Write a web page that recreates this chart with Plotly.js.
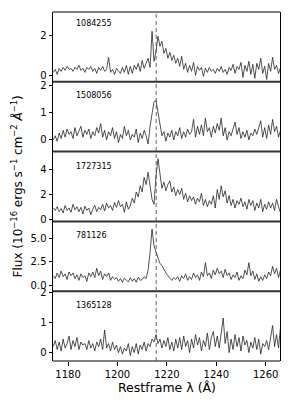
<!DOCTYPE html>
<html>
<head>
<meta charset="utf-8">
<script src="https://cdn.plot.ly/plotly-3.0.1.min.js"></script>
<style>html,body{margin:0;padding:0;background:#fff;}#chart{width:298px;height:404px;}</style>
</head>
<body>
<div id="chart"></div>
<script>
const wave = [
1174.0,1174.8,1175.6,1176.4,1177.2,1178.0,1178.8,1179.6,1180.4,1181.2,
1182.0,1182.8,1183.6,1184.4,1185.2,1186.0,1186.8,1187.6,1188.4,1189.2,
1190.0,1190.8,1191.6,1192.4,1193.2,1194.0,1194.8,1195.6,1196.4,1197.2,
1198.0,1198.8,1199.6,1200.4,1201.2,1202.0,1202.8,1203.6,1204.4,1205.2,
1206.0,1206.8,1207.6,1208.4,1209.2,1210.0,1210.8,1211.6,1212.4,1213.2,
1214.0,1214.8,1215.6,1216.4,1217.2,1218.0,1218.8,1219.6,1220.4,1221.2,
1222.0,1222.8,1223.6,1224.4,1225.2,1226.0,1226.8,1227.6,1228.4,1229.2,
1230.0,1230.8,1231.6,1232.4,1233.2,1234.0,1234.8,1235.6,1236.4,1237.2,
1238.0,1238.8,1239.6,1240.4,1241.2,1242.0,1242.8,1243.6,1244.4,1245.2,
1246.0,1246.8,1247.6,1248.4,1249.2,1250.0,1250.8,1251.6,1252.4,1253.2,
1254.0,1254.8,1255.6,1256.4,1257.2,1258.0,1258.8,1259.6,1260.4,1261.2,
1262.0,1262.8,1263.6,1264.4,1265.2,1266.0];

const objectIds = ["1084255","1508056","1727315","781126","1365128"];

const flux1084255 = [
0.15,0.3,0.05,0.35,0.2,0.4,0.25,0.45,0.3,0.35,
0.2,0.4,0.3,0.5,0.25,0.35,0.15,0.4,0.3,0.45,
0.2,0.35,0.1,0.4,0.25,0.45,0.2,0.3,0.9,0.15,
0.3,0.05,0.35,0.2,0.1,0.4,0.15,0.5,0.05,0.45,
0.1,0.5,0.3,0.6,0.2,0.75,0.35,0.6,0.85,0.4,
2.2,0.7,1.2,1.95,1.45,1.7,1.1,1.35,0.85,1.15,
0.75,1.0,0.6,0.85,0.45,0.95,0.3,0.6,0.15,0.5,
0.2,0.65,0.0,0.45,0.25,0.4,-0.05,0.35,0.15,0.4,
0.2,0.3,0.1,0.35,0.2,0.45,0.15,0.3,0.05,0.4,
0.25,0.55,0.1,0.45,0.3,0.65,-0.1,0.5,0.2,0.7,
0.05,0.55,-0.15,0.6,0.3,0.85,0.1,0.45,-0.2,0.6,
0.2,0.9,0.3,0.5,0.1,0.4];

const flux1508056 = [
0.0,0.15,-0.05,0.25,0.05,0.35,0.1,0.4,0.2,0.3,
0.05,0.45,0.15,0.3,0.5,0.1,0.35,0.2,0.4,0.05,
0.3,0.15,0.45,0.25,0.6,0.1,0.35,0.0,0.3,0.15,
0.45,0.05,0.3,-0.1,0.2,0.05,0.5,0.15,0.35,0.0,
0.2,0.1,0.4,-0.1,0.25,0.05,0.35,0.15,-0.15,0.5,
0.95,1.4,1.45,1.05,0.55,0.15,0.3,-0.05,0.25,0.1,
0.35,0.0,0.3,0.15,0.45,0.05,0.3,0.1,0.4,0.2,
0.3,0.75,0.1,0.5,0.2,0.55,0.15,0.8,0.3,0.45,
0.1,0.5,0.25,0.6,0.35,0.8,0.15,0.45,0.0,0.3,
0.15,0.4,0.65,0.2,0.45,0.05,0.3,0.1,0.35,0.0,
0.25,0.15,0.4,0.2,0.5,0.7,0.1,0.45,0.05,0.55,
0.2,0.75,0.3,0.5,0.1,0.35];

const flux1727315 = [
0.9,0.7,1.0,0.6,0.85,0.5,1.1,0.7,0.9,0.55,
1.2,0.75,1.0,0.6,0.95,0.4,1.05,0.7,0.9,0.35,
0.8,1.1,0.6,0.95,0.75,1.2,0.65,1.3,0.9,1.1,
0.7,1.35,0.95,1.5,1.0,1.2,0.55,1.4,0.8,1.1,
1.7,1.3,2.2,1.8,2.7,2.2,3.4,2.8,3.8,2.6,
1.6,1.2,3.5,4.9,3.7,2.5,3.0,2.3,2.8,3.1,
2.2,2.6,1.9,2.4,2.0,2.5,1.6,2.1,1.4,1.9,
1.5,1.8,1.2,1.7,1.4,2.1,1.1,1.6,1.0,1.5,
1.2,1.9,0.9,2.4,1.6,2.7,1.8,2.3,1.3,1.9,
1.1,1.6,0.9,1.5,1.2,1.7,1.0,1.4,0.8,1.6,
1.1,1.5,0.7,1.3,0.9,1.6,0.6,1.2,0.8,1.4,
0.9,1.3,0.7,1.6,1.0,0.5];

const flux781126 = [
1.0,0.7,1.3,0.8,1.5,0.9,1.2,0.6,1.4,1.0,
1.3,0.7,1.1,0.5,1.2,0.8,1.0,0.4,1.3,0.9,
1.4,0.8,1.8,1.0,1.5,0.6,1.2,0.9,1.3,0.5,
0.9,0.6,0.8,0.4,0.7,0.3,0.75,0.5,0.35,0.8,
0.4,0.7,0.3,0.85,0.5,0.6,0.9,0.7,1.6,3.5,
6.0,4.2,3.5,2.9,2.3,2.1,1.6,1.3,1.0,0.7,
0.5,0.8,0.6,0.9,0.4,1.0,0.7,1.2,0.5,0.9,
0.6,1.3,0.8,1.1,0.5,1.4,0.9,2.4,1.0,1.3,
0.7,1.6,1.1,1.8,1.2,1.5,0.8,1.7,1.0,1.3,
0.6,1.1,0.8,1.4,0.5,1.0,0.7,1.6,1.1,2.4,
1.0,1.5,0.6,1.2,0.4,0.9,0.5,1.1,0.7,1.4,
1.0,2.0,1.2,1.8,0.8,1.6];

const flux1365128 = [
0.2,0.4,0.1,0.35,0.05,0.45,0.15,0.3,0.55,0.1,
0.4,0.2,0.5,0.1,0.35,0.25,0.3,0.1,0.4,0.15,
0.3,0.05,0.35,0.2,0.45,0.1,0.75,0.15,0.3,0.05,
0.35,0.1,0.25,0.0,0.2,-0.05,0.15,0.05,0.3,-0.1,
0.2,0.0,0.3,-0.05,0.25,0.1,0.35,0.05,0.3,0.2,
0.45,0.35,0.6,0.3,0.45,0.15,0.4,0.2,0.5,0.1,
0.35,0.05,0.45,0.15,0.5,0.1,0.55,0.2,0.4,0.0,
0.45,0.15,0.6,0.25,0.5,0.05,0.4,0.2,0.65,0.1,
0.5,0.7,0.2,0.55,0.15,0.6,1.15,0.3,0.7,0.0,
0.45,0.1,0.6,0.2,0.5,0.05,0.55,0.25,0.4,0.0,
0.35,0.15,0.5,0.1,0.45,-0.05,0.3,0.2,0.4,0.1,
0.5,0.9,0.2,0.6,0.15,0.85];

const fluxes = [flux1084255, flux1508056, flux1727315, flux781126, flux1365128];
const yTicks = [[0,2],[0,1,2],[0,2,4],[0,2.5,5],[0,1,2]];
const xTicks = [1180,1200,1220,1240,1260];
const lyaWave = 1215.67;

const yRanges = [[-0.32,3.16],[-0.43,2.13],[-0.19,5.48],[-0.66,6.83],[-0.28,2.04]];
const labelPos = [0.83,0.80,0.79,0.795,0.80];

const FONT = "DejaVu Sans, sans-serif";
const traces = [];
const layout = {
  width: 298, height: 404,
  margin: {l:53, r:18, t:12, b:43},
  paper_bgcolor: "#fff", plot_bgcolor: "#fff",
  showlegend: false,
  font: {family: FONT, size: 10, color: "#000"},
  xaxis: {
    anchor: "y5", domain: [0,1], range: [1173.9,1265.8],
    tickvals: xTicks, ticks: "outside", ticklen: 3.5, tickwidth: 1, tickcolor: "#000",
    showline: false, showgrid: false, zeroline: false,
    tickfont: {family: FONT, size: 10, color: "#000"}
  },
  shapes: [], annotations: []
};

for (let k = 0; k < 5; k++) {
  const yname = k === 0 ? "y" : "y" + (k+1);
  const axname = k === 0 ? "yaxis" : "yaxis" + (k+1);
  traces.push({
    x: wave, y: fluxes[k], xaxis: "x", yaxis: yname,
    type: "scatter", mode: "lines",
    line: {color: "#262626", width: 0.8}, hoverinfo: "skip"
  });
  const d0 = (4-k)/5, d1 = (5-k)/5;
  layout[axname] = {
    anchor: "x", domain: [d0, d1], range: yRanges[k],
    tickvals: yTicks[k], ticktext: yTicks[k].map(v => k === 3 ? v.toFixed(1) : String(v)),
    ticks: "outside", ticklen: 3.5, tickwidth: 1, tickcolor: "#000",
    showline: true, mirror: true, linecolor: "#000", linewidth: 1,
    showgrid: false, zeroline: false,
    tickfont: {family: FONT, size: 10, color: "#000"}
  };
  layout.annotations.push({
    text: objectIds[k], xref: "paper", x: 0.091, xanchor: "left",
    yref: yname + " domain", y: labelPos[k], yanchor: "middle",
    showarrow: false, font: {family: FONT, size: 8, color: "#000"}
  });
}

for (let k = 0; k <= 5; k++) {
  const inner = k > 0 && k < 5;
  layout.shapes.push({
    type: "line", xref: "paper", yref: "paper", x0: 0, x1: 1, y0: k/5, y1: k/5,
    line: {color: inner ? "#333" : "#000", width: inner ? 2 : 1}
  });
}
layout.shapes.push({
  type: "line", xref: "x", yref: "paper", x0: lyaWave, x1: lyaWave, y0: 0, y1: 1,
  line: {color: "#555", width: 0.9, dash: "4px,3px"}
});

layout.annotations.push({
  text: "Restframe λ (Å)", xref: "paper", yref: "paper", x: 0.5, y: -0.075,
  xanchor: "center", yanchor: "middle", showarrow: false,
  font: {family: FONT, size: 12.5, color: "#000"}
});
layout.annotations.push({
  text: "Flux (10<sup>−16</sup> ergs s<sup>−1</sup> cm<sup>−2</sup> <i>Å</i><sup>−1</sup>)",
  xref: "paper", yref: "paper", x: -0.159, y: 0.5, textangle: -90,
  xanchor: "center", yanchor: "middle", showarrow: false,
  font: {family: FONT, size: 12, color: "#000"}
});

Plotly.newPlot("chart", traces, layout, {staticPlot: true, displayModeBar: false});
</script>
</body>
</html>
